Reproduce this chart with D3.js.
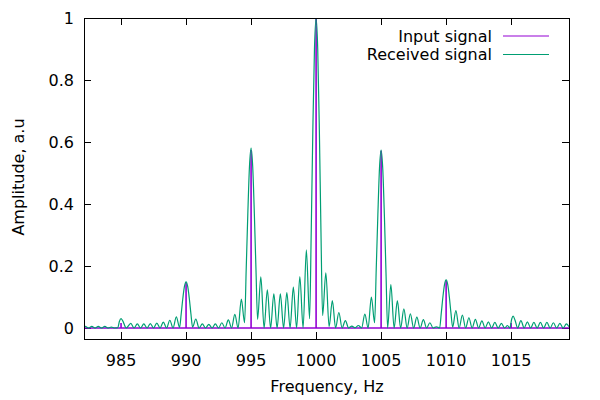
<!DOCTYPE html>
<html lang="en">
<head>
    <meta charset="UTF-8">
    <title>Spectrum</title>
    <style>
        body { margin: 0; background: #fff; }
        text { font-family: "DejaVu Sans", sans-serif; font-size: 16px; fill: #000; }
    </style>
</head>
<body>
<svg id="chart" width="600" height="400"></svg>
<script src="https://d3js.org/d3.v7.min.js"></script>

<script>
    /* global d3 */

    let xTicks = [985, 990, 995, 1000, 1005, 1010, 1015];
    let yTicks = [0, 0.2, 0.4, 0.6, 0.8, 1];

    // input signal: single spectral lines
    let inputFreq = [985, 990, 995, 1000, 1005, 1010, 1015];
    let inputAmp = [0.016, 0.147, 0.574, 1.0, 0.572, 0.153, 0.016];

    // received signal (lobe peaks and nulls)
    let recvFreq = [
        982.15, 982.25, 982.5, 982.75, 983, 983.25, 983.5, 983.75, 984, 984.25, 984.5,
        984.75, 984.87, 985, 985.12, 985.4,
        985.75, 986, 986.25, 986.5, 986.75, 987, 987.25, 987.5, 987.75, 988, 988.25, 988.5,
        988.75, 989, 989.25, 989.5,
        989.625, 989.75, 989.875, 990, 990.125, 990.25, 990.375, 990.5,
        990.75, 991, 991.25, 991.5, 991.75, 992, 992.25, 992.5, 992.75, 993, 993.25, 993.5,
        993.75, 994, 994.25, 994.5,
        994.625, 994.75, 994.875, 995, 995.125, 995.25, 995.375, 995.5,
        995.75, 996, 996.25, 996.5, 996.75, 997, 997.25, 997.5, 997.75, 998, 998.25, 998.5,
        998.75, 999, 999.25, 999.5,
        999.625, 999.75, 999.875, 1000, 1000.125, 1000.25, 1000.375, 1000.5,
        1000.75, 1001, 1001.25, 1001.5, 1001.75, 1002, 1002.25, 1002.5, 1002.75, 1003,
        1003.25, 1003.5, 1003.75, 1004, 1004.25, 1004.5,
        1004.625, 1004.75, 1004.875, 1005, 1005.125, 1005.25, 1005.375, 1005.5,
        1005.75, 1006, 1006.25, 1006.5, 1006.75, 1007, 1007.25, 1007.5, 1007.75, 1008,
        1008.25, 1008.5, 1008.75, 1009, 1009.25, 1009.5,
        1009.625, 1009.75, 1009.875, 1010, 1010.125, 1010.25, 1010.375, 1010.5,
        1010.75, 1011, 1011.25, 1011.5, 1011.75, 1012, 1012.25, 1012.5, 1012.75, 1013,
        1013.25, 1013.5, 1013.75, 1014, 1014.25, 1014.5, 1014.72, 1014.9,
        1015.05, 1015.15, 1015.3, 1015.5,
        1015.75, 1016, 1016.25, 1016.5, 1016.75, 1017, 1017.25, 1017.5, 1017.75, 1018,
        1018.25, 1018.5, 1018.75, 1019, 1019.25, 1019.45
    ];
    let recvAmp = [
        0.002, 0.005, 0, 0.005, 0, 0.005, 0, 0.005, 0, 0.003, 0,
        0.001, 0.021, 0.030, 0.024, 0,
        0.015, 0, 0.013, 0, 0.013, 0, 0.014, 0, 0.016, 0, 0.019, 0,
        0.025, 0, 0.036, 0.002,
        0.045, 0.095, 0.134, 0.149, 0.134, 0.095, 0.045, 0.003,
        0.029, 0, 0.013, 0, 0.012, 0, 0.013, 0, 0.017, 0, 0.026, 0,
        0.044, 0, 0.093, 0.017,
        0.19, 0.37, 0.52, 0.58, 0.52, 0.37, 0.19, 0.028,
        0.165, 0, 0.123, 0, 0.110, 0, 0.110, 0, 0.114, 0, 0.132, 0,
        0.166, 0, 0.252, 0.03,
        0.31, 0.64, 0.90, 1.0, 0.90, 0.64, 0.31, 0.04,
        0.178, 0.004, 0.088, 0, 0.050, 0, 0.024, 0, 0.006, 0.001,
        0.008, 0, 0.045, 0, 0.100, 0.017,
        0.19, 0.365, 0.515, 0.574, 0.515, 0.365, 0.18, 0,
        0.140, 0, 0.088, 0, 0.062, 0, 0.046, 0, 0.035, 0,
        0.027, 0, 0.017, 0, 0.004, 0,
        0.047, 0.099, 0.14, 0.155, 0.14, 0.099, 0.047, 0.003,
        0.056, 0, 0.042, 0, 0.033, 0, 0.028, 0, 0.023, 0,
        0.020, 0, 0.018, 0, 0.015, 0, 0.008, 0,
        0.030, 0.038, 0.025, 0,
        0.024, 0, 0.020, 0, 0.018, 0, 0.018, 0, 0.018, 0,
        0.017, 0, 0.015, 0, 0.013, 0.004
    ];

    let seriesNames = ["Input signal", "Received signal"];
    let seriesColors = ["#9400d3", "#009e73"];

    let svg = d3.select("#chart"),
        mLeft = 84, mRight = 569, mTop = 18, mBottom = 339,
        tick = 7;

    let x = d3.scaleLinear().domain([982.15, 1019.45]).range([mLeft, mRight]);
    let y = d3.scaleLinear().domain([-0.0355, 1]).range([mBottom, mTop]);

    svg.append("rect").attr("width", 600).attr("height", 400).attr("fill", "#fff");

    svg.append("defs").append("clipPath").attr("id", "clip")
        .append("rect")
        .attr("x", mLeft).attr("y", mTop)
        .attr("width", mRight - mLeft).attr("height", mBottom - mTop);

    // ticks, mirrored on all four sides and pointing inward
    let axes = svg.append("g").attr("stroke", "#000").attr("stroke-width", 1);
    xTicks.forEach(function (t) {
        let px = Math.round(x(t)) + 0.5;
        axes.append("line").attr("x1", px).attr("x2", px).attr("y1", mBottom).attr("y2", mBottom - tick);
        axes.append("line").attr("x1", px).attr("x2", px).attr("y1", mTop).attr("y2", mTop + tick);
    });
    yTicks.forEach(function (t) {
        let py = Math.round(y(t)) + 0.5;
        axes.append("line").attr("x1", mLeft).attr("x2", mLeft + tick).attr("y1", py).attr("y2", py);
        axes.append("line").attr("x1", mRight).attr("x2", mRight - tick).attr("y1", py).attr("y2", py);
    });

    svg.append("g").selectAll("text")
        .data(xTicks)
        .join("text")
        .attr("x", d => x(d))
        .attr("y", 366)
        .attr("text-anchor", "middle")
        .text(d => d);

    svg.append("g").selectAll("text")
        .data(yTicks)
        .join("text")
        .attr("x", 74)
        .attr("y", d => y(d) + 5.8)
        .attr("text-anchor", "end")
        .text(d3.format("~g"));

    svg.append("text")
        .attr("transform", "translate(24,177) rotate(-90)")
        .attr("text-anchor", "middle")
        .text("Amplitude, a.u");

    svg.append("text")
        .attr("x", 327)
        .attr("y", 392)
        .attr("text-anchor", "middle")
        .text("Frequency, Hz");

    // input signal: zero line with a spike at each component
    let inputPts = [[x.domain()[0], 0]];
    inputFreq.forEach(function (f, i) {
        inputPts.push([f, 0], [f, inputAmp[i]], [f, 0]);
    });
    inputPts.push([x.domain()[1], 0]);

    let recvPts = recvFreq.map((f, i) => [f, recvAmp[i]]);

    let plot = svg.append("g").attr("clip-path", "url(#clip)").attr("fill", "none");

    plot.append("path")
        .attr("d", d3.line().x(d => x(d[0])).y(d => y(d[1]))(inputPts))
        .attr("stroke", seriesColors[0])
        .attr("stroke-width", 1.6);

    plot.append("path")
        .attr("d", d3.line().x(d => x(d[0])).y(d => y(d[1])).curve(d3.curveMonotoneX)(recvPts))
        .attr("stroke", seriesColors[1])
        .attr("stroke-width", 1.2);

    // border
    svg.append("rect")
        .attr("x", mLeft + 0.5).attr("y", mTop + 0.5)
        .attr("width", mRight - mLeft).attr("height", mBottom - mTop)
        .attr("fill", "none").attr("stroke", "#000").attr("stroke-width", 1);

    // legend
    let legend = svg.append("g");
    seriesNames.forEach(function (name, i) {
        let ly = 36 + i * 18.5;
        legend.append("text")
            .attr("x", 492)
            .attr("y", ly + 5.8)
            .attr("text-anchor", "end")
            .text(name);
        legend.append("line")
            .attr("x1", 503).attr("x2", 549)
            .attr("y1", ly).attr("y2", ly)
            .attr("stroke", seriesColors[i])
            .attr("stroke-width", 1.2);
    });
</script>
</body>
</html>
